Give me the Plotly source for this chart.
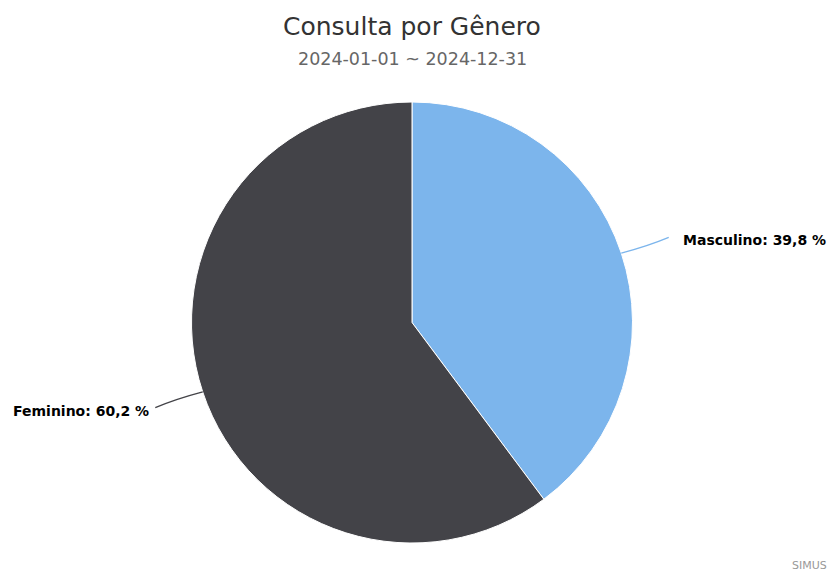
import math
import plotly.graph_objects as go

# ---- data ----
categories = ["Masculino", "Feminino"]
values = [39.8, 60.2]
colors = ["#7cb5ec", "#434348"]
title_text = "Consulta por Gênero"
subtitle_text = "2024-01-01 ~ 2024-12-31"
credit_text = "SIMUS"

W, H = 831, 574
CX, CY, R = 412, 322.5, 220.5
LABEL_DIST = 50

fig = go.Figure()
fig.add_trace(go.Pie(
    labels=categories,
    values=values,
    sort=False,
    direction="clockwise",
    rotation=0,
    marker=dict(colors=colors, line=dict(color="#ffffff", width=1)),
    textinfo="none",
    hoverinfo="label+percent",
    showlegend=False,
    domain=dict(x=[(CX - R) / W, (CX + R) / W], y=[1 - (CY + R) / H, 1 - (CY - R) / H]),
))

def px(x):
    return x / W

def py(y):
    return 1 - y / H

annotations = []
shapes = []
total = sum(values)
cum = 0.0
for cat, v, col in zip(categories, values, colors):
    mid = (cum + v / 2) / total * 2 * math.pi
    cum += v
    sx, sy = math.sin(mid), -math.cos(mid)
    ex, ey = CX + R * sx, CY + R * sy
    ax, ay = CX + (R + LABEL_DIST) * sx, CY + (R + LABEL_DIST) * sy
    # slightly curved connector (quadratic), computed from the slice angle
    qx, qy = CX + (R + 28) * sx, CY + (R + 28) * sy + (6 if sy < 0 else -6) * 0.3
    shapes.append(dict(type="path", xref="paper", yref="paper",
                       path=f"M {px(ex)},{py(ey)} Q {px(qx)},{py(qy)} {px(ax)},{py(ay)}",
                       line=dict(color=col, width=1.3)))
    right = sx >= 0
    pct = f"{v:.1f}".replace(".", ",")
    annotations.append(dict(
        x=px(ax + (12 if right else -4)), y=py(ay + 3), xref="paper", yref="paper",
        text=f"<b>{cat}: {pct} %</b>", showarrow=False,
        xanchor="left" if right else "right", yanchor="middle",
        font=dict(family="DejaVu Sans", size=14, color="#000000"),
    ))

annotations.append(dict(x=px(CX), y=py(27), xref="paper", yref="paper", text=title_text,
                        showarrow=False, xanchor="center", yanchor="middle",
                        font=dict(family="DejaVu Sans", size=25, color="#333333")))
annotations.append(dict(x=px(CX), y=py(59), xref="paper", yref="paper", text=subtitle_text,
                        showarrow=False, xanchor="center", yanchor="middle",
                        font=dict(family="DejaVu Sans", size=17.5, color="#666666")))
annotations.append(dict(x=px(829), y=py(565), xref="paper", yref="paper", text=credit_text,
                        showarrow=False, xanchor="right", yanchor="middle",
                        font=dict(family="DejaVu Sans", size=11, color="#999999")))

fig.update_layout(
    width=W, height=H,
    margin=dict(l=0, r=0, t=0, b=0),
    paper_bgcolor="#ffffff",
    annotations=annotations,
    shapes=shapes,
)

fig.write_html("out.html", config={"displayModeBar": False},
               post_script="document.body.style.margin='0';document.body.style.padding='0';")
